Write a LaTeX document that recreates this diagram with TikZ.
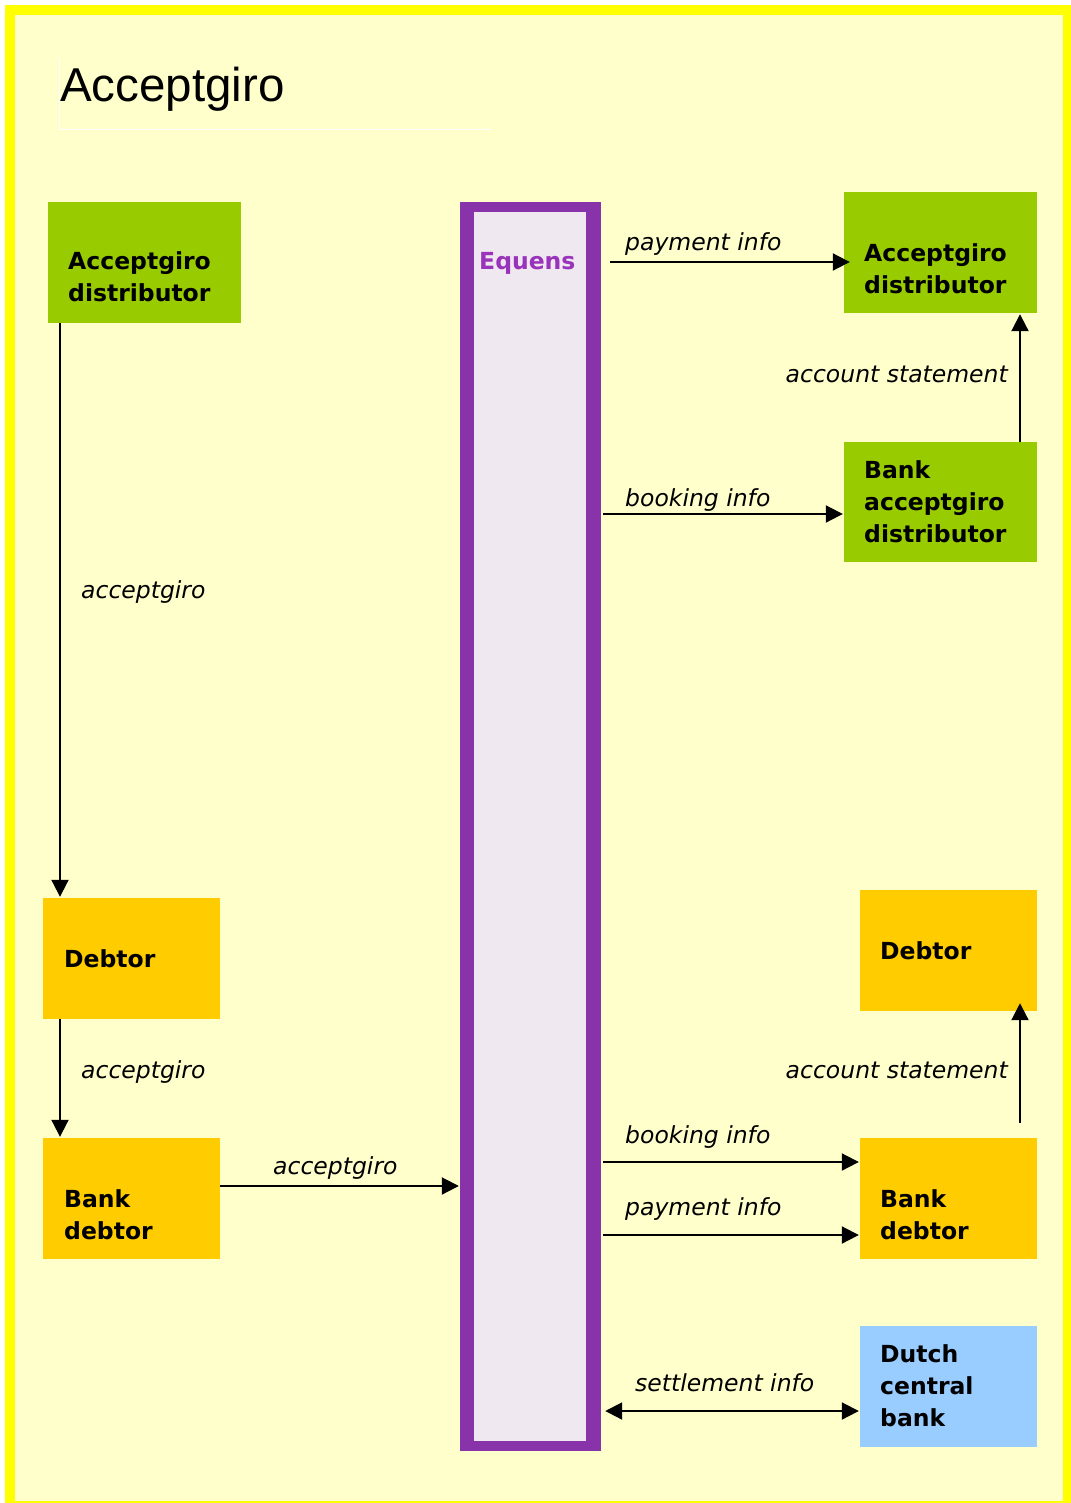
\documentclass[tikz,border=0pt]{standalone}
\usepackage{fontspec}
\newfontfamily\vfont{DejaVu Sans}
\newfontfamily\tfont{Liberation Sans}
\usetikzlibrary{arrows.meta,calc}
\definecolor{bgfill}{HTML}{FFFFCC}
\definecolor{frameyel}{HTML}{FFFF00}
\definecolor{agreen}{HTML}{99CC00}
\definecolor{aorange}{HTML}{FFCC00}
\definecolor{ablue}{HTML}{99CCFF}
\definecolor{apurple}{HTML}{8833AA}
\definecolor{atxtpurple}{HTML}{9933BB}
\definecolor{ainner}{HTML}{F0E8F0}
\newcommand{\mlines}[1]{\begin{tabular}[t]{@{}l@{}}#1\end{tabular}}
\begin{document}
\begin{tikzpicture}[x=1pt,y=-1pt,
  box/.style={rectangle, inner sep=0pt, draw=none, minimum height=121pt},
  gbox/.style={box, fill=agreen, minimum width=193pt},
  obox/.style={box, fill=aorange, minimum width=177pt},
  bbox/.style={box, fill=ablue, minimum width=177pt},
  btxt/.style={anchor=base west, inner sep=0pt, font=\vfont\bfseries\fontsize{23.5}{32}\selectfont},
  lbl/.style={inner sep=0pt, font=\vfont\itshape\fontsize{23.5}{28}\selectfont},
  arr/.style={line width=2pt, -{Triangle[length=17pt,width=17pt]}},
  darr/.style={line width=2pt, {Triangle[length=17pt,width=17pt]}-{Triangle[length=17pt,width=17pt]}}
]
\useasboundingbox (0,0) rectangle (1070,1503);
% frame
\draw[frameyel, line width=10pt, fill=bgfill] (10,10) rectangle (1068,1506);
% title
\node[anchor=base west, inner sep=0pt, font=\tfont\fontsize{47.5}{52}\selectfont] (title) at (60,102) {Acceptgiro};
\draw[white, line width=1pt] (59,58) -- (59,130) -- (491,130);

% Equens column
\node[rectangle, inner sep=0pt, fill=apurple, minimum width=141pt, minimum height=1249pt] (eq) at (530.5,826.5) {};
\node[rectangle, inner sep=0pt, fill=ainner, minimum width=112pt, minimum height=1229pt] (eqin) at (530,826.5) {};
\node[btxt, text=atxtpurple] (eqt) at (479,270) {Equens};

% boxes
\node[gbox] (ad1) at (144.5,262.5) {};
\node[btxt] (ad1t) at (68,270) {\mlines{Acceptgiro\\distributor}};
\node[gbox] (ad2) at (940.5,252.5) {};
\node[btxt] (ad2t) at (864,262) {\mlines{Acceptgiro\\distributor}};
\node[gbox, minimum height=120pt] (bad) at (940.5,502) {};
\node[btxt] (badt) at (864,478) {\mlines{Bank\\acceptgiro\\distributor}};
\node[obox] (deb1) at (131.5,958.5) {};
\node[btxt] (deb1t) at (64,967) {Debtor};
\node[obox] (bd1) at (131.5,1198.5) {};
\node[btxt] (bd1t) at (64,1207) {\mlines{Bank\\debtor}};
\node[obox] (deb2) at (948.5,950.5) {};
\node[btxt] (deb2t) at (880,959) {Debtor};
\node[obox] (bd2) at (948.5,1198.5) {};
\node[btxt] (bd2t) at (880,1207) {\mlines{Bank\\debtor}};
\node[bbox] (dcb) at (948.5,1386.5) {};
\node[btxt] (dcbt) at (880,1362) {\mlines{Dutch\\central\\bank}};

% connectors
\draw[arr] ($(eq.east |- ad2.west)+(9,9.5)$) -- ($(ad2.west)+(6,9.5)$);
\node[lbl, anchor=base west] (l1) at (625,251) {payment info};

\draw[arr] ($(bad.north)+(79.5,0)$) -- ($(ad2.south)+(79.5,1)$);
\node[lbl, anchor=base east] (l2) at (1008,382) {account statement};

\draw[arr] ($(eq.east |- bad.west)+(2,12)$) -- ($(bad.west)+(-1,12)$);
\node[lbl, anchor=base west] (l3) at (625,506) {booking info};

\draw[arr] ($(ad1.south)+(-84.5,0)$) -- ($(deb1.north)+(-71.5,-1)$);
\node[lbl, anchor=base west] (l4) at (81,598) {acceptgiro};

\draw[arr] ($(deb1.south)+(-71.5,0)$) -- ($(bd1.north)+(-71.5,-1)$);
\node[lbl, anchor=base west] (l5) at (81,1078) {acceptgiro};

\draw[arr] ($(bd1.east)+(0,-12.5)$) -- ($(eq.west |- bd1.east)+(-1,-12.5)$);
\node[lbl, anchor=base west] (l6) at (273,1174) {acceptgiro};

\draw[arr] ($(eq.east |- bd2.west)+(2,-36.5)$) -- ($(bd2.west)+(-1,-36.5)$);
\node[lbl, anchor=base west] (l7) at (625,1143) {booking info};

\draw[arr] ($(eq.east |- bd2.west)+(2,36.5)$) -- ($(bd2.west)+(-1,36.5)$);
\node[lbl, anchor=base west] (l8) at (625,1215) {payment info};

\draw[arr] ($(bd2.north)+(71.5,-15)$) -- ($(deb2.south)+(71.5,-8)$);
\node[lbl, anchor=base east] (l9) at (1008,1078) {account statement};

\draw[darr] ($(eq.east |- dcb.west)+(4,24.5)$) -- ($(dcb.west)+(-1,24.5)$);
\node[lbl, anchor=base west] (l10) at (635,1391) {settlement info};
\end{tikzpicture}
\end{document}
